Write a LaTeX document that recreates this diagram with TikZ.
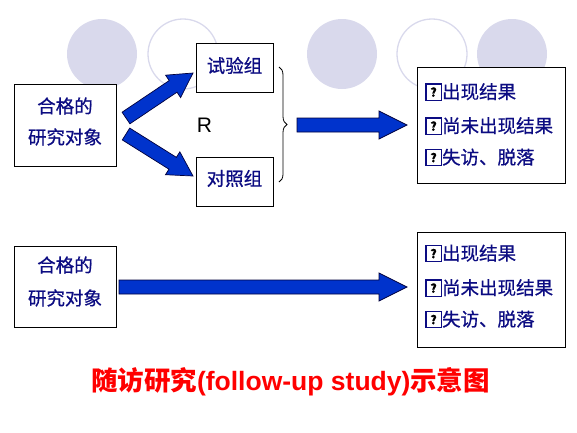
\documentclass[tikz,border=0pt]{standalone}
\usepackage{fontspec}
\setmainfont{Liberation Sans}
\newfontfamily\cjk{Noto Sans CJK SC}
\newfontfamily\cjkm{Noto Sans CJK SC}[FakeBold=0.7]
\usetikzlibrary{calc,decorations.pathreplacing}
\definecolor{lav}{RGB}{217,217,236}
\definecolor{navy}{RGB}{12,12,130}
\definecolor{arrblue}{RGB}{0,51,204}
\definecolor{arredge}{RGB}{0,0,60}
\definecolor{titlered}{RGB}{255,0,0}
\newcommand\qmark{{\setlength\fboxsep{0pt}\setlength\fboxrule{1.3pt}\color{navy}\raisebox{-1pt}{\fbox{\parbox[b][15pt][c]{14pt}{\centering\color{black}\fontsize{12}{12}\selectfont\bfseries ?}}}}\hspace{0.3pt}}
\newcommand\blockarrow[5]{%
  \coordinate (h-#1) at ($(#2)!#5!(#1)$);
  \draw[blockarrow] ($(#1)!#3!90:(#2)$) -- ($(h-#1)!#3!90:(#2)$) -- ($(h-#1)!#4!90:(#2)$) -- (#2) -- ($(h-#1)!#4!-90:(#2)$) -- ($(h-#1)!#3!-90:(#2)$) -- ($(#1)!#3!-90:(#2)$) -- cycle;}
\tikzset{
  box/.style={draw=black, line width=0.9pt, fill=white, inner sep=0pt, rectangle},
  cjktext/.style={font=\cjkm\fontsize{18.5}{18.5}\selectfont, text=navy, inner sep=0pt},
  listtext/.style={cjktext, anchor=west},
  blockarrow/.style={fill=arrblue, draw=arredge, line width=0.7pt, line join=miter},
  deco/.style={fill=lav, draw=none},
  decoring/.style={draw=lav, line width=1.3pt},
}
\begin{document}
\begin{tikzpicture}[x=1pt, y=-1pt]
\useasboundingbox (0,0) rectangle (577,432);
% decorative circles
\path[deco] (102,54) circle (35);
\path[decoring] (183,54) circle (35);
\path[deco] (342,54) circle (35);
\path[decoring] (432,54) circle (35);
\path[deco] (512,54) circle (35);

% upper diagram
\node[box, minimum width=102pt, minimum height=82pt] (subj1) at (65,125) {};
\node[cjktext] (subj1a) at (65,106) {合格的};
\node[cjktext] (subj1b) at (65,137) {研究对象};

\node[box, minimum width=77pt, minimum height=49pt] (exp) at (234.5,67.5) {};
\node[cjktext] (expt) at (234.5,65.5) {试验组};
\node[box, minimum width=77pt, minimum height=49pt] (ctrl) at (234.5,181.5) {};
\node[cjktext] (ctrlt) at (234.5,178.5) {对照组};

\node[inner sep=0pt, font=\fontsize{21}{21}\selectfont] (R) at (204.5,125.5) {R};

\coordinate (btop) at (279,67);
\coordinate (bbot) at (279,182);
\draw[line width=0.8pt, decorate, decoration={brace, amplitude=8pt}] (btop) -- (bbot);

\node[box, minimum width=148pt, minimum height=116pt] (res1) at (491,125) {};
\node[listtext] (r1a) at (425,92) {\qmark 出现结果};
\node[listtext] (r1b) at (425,126) {\qmark 尚未出现结果};
\node[listtext] (r1c) at (425,157.5) {\qmark 失访、脱落};

\coordinate (a1s) at (126,118);
\coordinate (a1e) at (193,73);
\coordinate (a2s) at (126,134);
\coordinate (a2e) at (193,176);
\coordinate (a3s) at (297,125);
\coordinate (a3e) at (407,125);
\blockarrow{a1s}{a1e}{7pt}{13.5pt}{24pt}
\blockarrow{a2s}{a2e}{7pt}{13.5pt}{24pt}
\blockarrow{a3s}{a3e}{7pt}{14pt}{28pt}

% lower diagram
\node[box, minimum width=102pt, minimum height=81pt] (subj2) at (65,286.5) {};
\node[cjktext] (subj2a) at (65,265) {合格的};
\node[cjktext] (subj2b) at (65,298) {研究对象};

\node[box, minimum width=148pt, minimum height=115pt] (res2) at (491,289.5) {};
\node[listtext] (r2a) at (425,253.5) {\qmark 出现结果};
\node[listtext] (r2b) at (425,288) {\qmark 尚未出现结果};
\node[listtext] (r2c) at (425,319.5) {\qmark 失访、脱落};

\coordinate (a4s) at (119,287);
\coordinate (a4e) at (407,287);
\blockarrow{a4s}{a4e}{7pt}{14pt}{28pt}

% title
\node[inner sep=0pt, text=titlered, font=\fontsize{26.5}{26.5}\selectfont\bfseries] (title) at (290.5,381.5)
  {{\cjk\bfseries 随访研究}(follow-up study){\cjk\bfseries 示意图}};
\end{tikzpicture}
\end{document}
